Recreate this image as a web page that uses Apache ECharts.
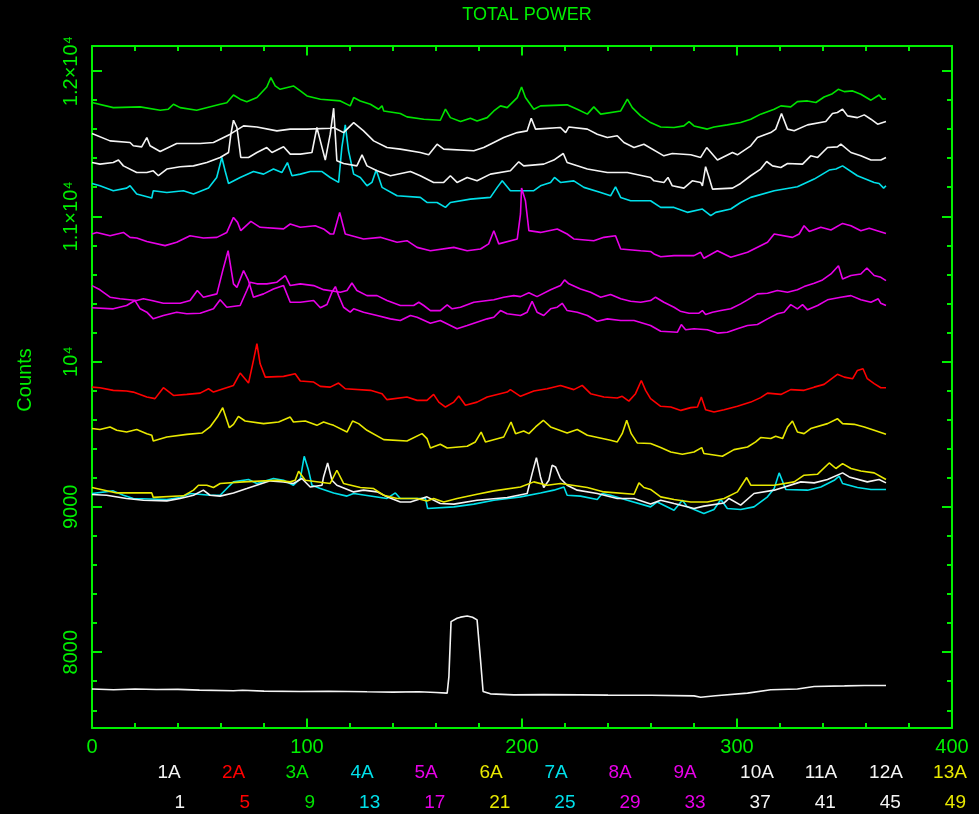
<!DOCTYPE html>
<html><head><meta charset="utf-8">
<script src="https://cdn.jsdelivr.net/npm/echarts@6/dist/echarts.min.js"></script>
<style>html,body{margin:0;padding:0;background:#000;}#c{width:979px;height:814px;}</style>
</head><body><div id="c"></div>
<script>
// ---- data (x = channel, y = counts) ----
const s1A = [[0,7746],[10,7741],[20,7746],[30,7743],[40,7744],[50,7739],[65.8,7734],[70,7738],[80,7732],[96.9,7729],[110,7731],[127.9,7727],[140,7725],[152,7728],[160,7722],[165.2,7718],[166,7832],[167,8210],[169.8,8233],[171.4,8241],[174.5,8249],[177,8240],[179.1,8222],[180.7,7947],[181.9,7729],[185.3,7713],[196.2,7706],[210,7708],[227.2,7706],[240,7704],[260,7703],[280,7699],[283.1,7690],[290,7700],[304.9,7718],[315.7,7741],[328.1,7746],[335.9,7764],[350,7768],[359.2,7771],[369.3,7771]];
const s2A = [[0,9824],[3.7,9820],[9.9,9802],[16.1,9797],[19.2,9790],[25.5,9756],[29.3,9745],[33.2,9820],[37.9,9767],[44.1,9774],[50.3,9783],[54.2,9813],[56.5,9790],[61.1,9813],[65.8,9836],[68.9,9921],[72.8,9852],[75.1,10008],[76.7,10123],[78.2,9985],[80.6,9893],[89.1,9898],[94.5,9916],[96.9,9866],[103.1,9859],[106.2,9829],[110.8,9824],[114.7,9852],[117.8,9813],[129.5,9802],[134.9,9779],[137.2,9738],[146.5,9756],[151.2,9733],[155.8,9733],[158.9,9774],[161.3,9721],[164.4,9687],[168.3,9721],[170.6,9763],[173.7,9699],[179.1,9721],[183.8,9756],[193.1,9790],[194.6,9807],[199.3,9761],[205.5,9797],[211.7,9813],[217.9,9836],[224.1,9807],[228,9836],[231.9,9779],[238.1,9756],[244.3,9749],[246.6,9761],[249.7,9728],[252.8,9779],[255.5,9870],[257.5,9802],[259.8,9745],[264.5,9692],[269.2,9687],[273.9,9664],[278.5,9683],[281.6,9687],[283.4,9756],[285.4,9669],[289.3,9653],[294,9669],[300.2,9692],[306.4,9721],[311,9752],[314.2,9783],[320.4,9774],[325,9807],[331.2,9802],[335.9,9824],[340.5,9843],[346.7,9912],[349.9,9893],[353.8,9882],[356,9939],[358.6,9951],[360.6,9882],[363.8,9848],[366.9,9820],[369.3,9820]];
const s3A = [[0,11783],[9.9,11748],[22.4,11753],[31.7,11730],[35.5,11737],[37.9,11771],[41,11748],[48.7,11730],[59.6,11771],[62.7,11782],[65.8,11835],[68.9,11806],[72,11789],[76.7,11817],[81.3,11890],[83.2,11954],[85.2,11897],[87.5,11874],[93.7,11897],[96.9,11863],[100,11828],[106.2,11806],[115.5,11794],[120.1,11760],[121.7,11817],[124.8,11794],[129.5,11771],[133.3,11737],[134.9,11760],[135.7,11725],[143.4,11707],[146.5,11684],[154.3,11668],[162,11661],[164.4,11737],[166.7,11679],[171.4,11652],[176,11675],[179.1,11656],[183.8,11679],[186.9,11725],[190,11760],[193.1,11748],[197.8,11817],[199.8,11890],[201.6,11817],[205.5,11737],[208.6,11760],[221,11767],[225.7,11737],[230.4,11703],[233.4,11753],[236.6,11703],[245.9,11725],[249,11806],[251.3,11748],[255.2,11691],[259.8,11645],[264.5,11615],[270.7,11611],[275.3,11622],[277.7,11652],[280,11622],[286.2,11600],[289.3,11615],[295.5,11629],[301.7,11645],[306.4,11668],[311,11703],[317.3,11737],[320.4,11760],[325,11753],[328.1,11789],[332.8,11794],[336.7,11783],[340.5,11821],[344.4,11844],[347.1,11874],[349.9,11858],[353.8,11863],[357.6,11840],[362.3,11799],[366.1,11835],[367.7,11806],[369.3,11808]];
const s4A = [[0,11226],[3.7,11210],[9.9,11176],[16.1,11194],[17.7,11210],[20.8,11153],[27.8,11126],[28.5,11176],[34.8,11164],[42.5,11176],[47.2,11153],[54.2,11194],[58,11267],[60.4,11405],[61.9,11313],[63.5,11226],[68.9,11267],[75.1,11308],[79.8,11290],[84.4,11325],[88.3,11301],[90.9,11370],[93,11279],[96.9,11290],[101.5,11308],[107,11308],[110.8,11267],[114.7,11233],[116.2,11473],[117.8,11629],[119.3,11451],[121.7,11290],[124.8,11267],[127.9,11210],[130.2,11233],[132.2,11318],[134.9,11199],[141.9,11141],[152.7,11130],[155.8,11095],[160.5,11095],[164.4,11061],[166.7,11095],[176,11118],[185.3,11130],[188.5,11199],[190.8,11244],[194.6,11176],[205.5,11176],[208.6,11210],[213.3,11233],[215.1,11267],[217.9,11233],[224.1,11244],[228.8,11199],[236.6,11164],[241.2,11141],[243.5,11203],[245.9,11130],[250.5,11107],[259.8,11107],[264.5,11061],[270.7,11061],[276.9,11027],[283.9,11050],[287.8,11004],[290.1,11027],[297.1,11050],[301.7,11095],[306.4,11130],[317.3,11176],[328.1,11203],[335.9,11256],[342.9,11318],[346,11325],[349.1,11347],[356,11279],[363.8,11233],[366.1,11226],[368.2,11194],[369.3,11210]];
const s5A = [[0,10523],[3.7,10494],[8.4,10443],[13,10432],[20.8,10420],[23.9,10432],[27.8,10420],[33.2,10401],[41,10401],[45.6,10420],[49,10489],[51.8,10443],[58.1,10466],[60.8,10626],[63.3,10763],[65.8,10535],[67.4,10511],[70.5,10626],[72.8,10557],[75.1,10443],[79.8,10466],[84.4,10500],[89.1,10523],[92.2,10408],[96.9,10408],[103.1,10420],[106.2,10370],[109.3,10393],[111.6,10477],[113.2,10516],[114.7,10454],[117,10374],[120.1,10340],[121.7,10363],[126.3,10340],[132.6,10317],[138.8,10294],[143.4,10283],[148.1,10317],[151.2,10305],[157.4,10264],[162,10283],[169.8,10226],[174.5,10248],[183.8,10294],[186.9,10305],[190,10351],[193.1,10329],[199.3,10317],[202.4,10340],[204.7,10415],[207,10340],[210.1,10317],[213.3,10363],[216.4,10374],[218.7,10401],[221,10351],[225.7,10340],[230.4,10317],[235,10278],[239.7,10294],[245.9,10283],[252.1,10283],[259.8,10248],[264.5,10209],[272.3,10202],[274.1,10255],[276.1,10219],[280,10226],[286.2,10219],[290.9,10196],[295.5,10202],[300.2,10226],[304.9,10248],[309.5,10255],[314.2,10294],[318.8,10329],[321.9,10340],[325,10392],[328.1,10363],[330.5,10392],[332.8,10356],[337.5,10386],[342.1,10425],[348.3,10443],[353,10454],[357.6,10425],[362.3,10408],[365.7,10432],[366.9,10401],[369.3,10386]];
const s6A = [[0,9539],[3.7,9532],[8.4,9550],[11.5,9527],[16.1,9515],[20.8,9532],[25.5,9504],[27.8,9493],[28.5,9453],[34.8,9481],[44.1,9499],[51.1,9508],[54.9,9550],[58.3,9618],[60.8,9683],[63.9,9545],[65.8,9568],[68.1,9623],[71.2,9591],[79.8,9573],[86.8,9584],[92.2,9618],[93.7,9584],[99.2,9591],[104.6,9561],[107.7,9584],[110.8,9568],[112.4,9561],[118.6,9515],[121.2,9591],[124,9573],[127.9,9527],[135.7,9463],[146.5,9453],[153.5,9504],[155.8,9470],[157.4,9405],[162,9431],[165.2,9405],[174.5,9417],[178.3,9447],[181,9515],[183,9447],[191.5,9481],[194.9,9584],[197,9504],[200.8,9522],[203.2,9504],[206.3,9550],[209.9,9596],[213.3,9550],[221,9508],[225.7,9532],[230.4,9493],[241.2,9458],[244.3,9447],[246.6,9504],[248.7,9596],[250.8,9504],[253.6,9440],[259.8,9436],[264.5,9408],[269.2,9378],[274.6,9362],[280,9378],[283.6,9408],[284.6,9367],[293.2,9348],[298.6,9394],[304.9,9412],[308.7,9447],[311,9477],[315.7,9470],[318,9486],[321.2,9470],[323.5,9550],[325.8,9591],[328.1,9515],[331.2,9504],[334.3,9539],[342.1,9573],[346.7,9607],[349.1,9573],[354.5,9568],[359.2,9550],[363.8,9527],[369.3,9499]];
const s7A = [[0,9092],[9.9,9110],[14.6,9080],[19.2,9058],[34.8,9051],[41,9065],[45.6,9092],[54.9,9080],[59.6,9080],[62.7,9126],[65.8,9172],[72.8,9188],[76.7,9161],[84.4,9195],[89.1,9183],[93.7,9149],[96.9,9195],[98.7,9348],[100.7,9252],[102.3,9149],[106.2,9126],[112.4,9096],[118.6,9074],[121.7,9092],[134.1,9065],[137.2,9058],[141.1,9096],[143.4,9058],[155.1,9058],[156.1,8989],[168.3,9000],[177.6,9019],[186.9,9046],[199.3,9069],[208.6,9096],[214.8,9115],[219.5,9137],[221,9080],[227.2,9074],[235,9051],[237.3,9092],[241.2,9080],[249,9046],[259.8,9000],[262.9,9034],[270.7,8977],[274.6,9046],[276.9,9000],[284.6,8955],[289.3,8982],[292.5,9051],[295.5,8989],[301.7,8982],[307.9,9000],[314.2,9069],[317.3,9126],[319.6,9234],[322.7,9120],[332.8,9115],[339,9137],[345.2,9183],[347.5,9211],[349.1,9161],[356,9133],[362.3,9120],[369.3,9120]];
const s8A = [[0,10370],[9.9,10363],[16.1,10386],[20,10420],[22.4,10363],[25.5,10340],[28.5,10294],[33.2,10317],[39.4,10340],[44.1,10329],[50.3,10333],[56.5,10363],[59.6,10425],[62.7,10374],[68.9,10386],[72,10489],[73.6,10546],[76.7,10535],[81.3,10535],[86,10546],[89.9,10592],[92.2,10523],[96.9,10535],[103.1,10523],[107.7,10495],[115.5,10477],[118.6,10489],[120.9,10541],[123.2,10489],[127.9,10454],[132.6,10454],[137.2,10420],[143.4,10386],[149.6,10386],[152,10408],[154.3,10386],[157.4,10351],[162,10351],[165.2,10390],[167.5,10363],[171.4,10374],[177.6,10408],[186.9,10425],[191.5,10443],[196.2,10454],[199.3,10447],[203.2,10473],[207,10447],[213.3,10494],[217.9,10523],[219.8,10562],[221.8,10535],[227.2,10500],[231.9,10477],[236.6,10443],[241.2,10461],[245.9,10432],[250.5,10415],[255.2,10408],[259.8,10420],[262.1,10443],[266,10408],[270.7,10374],[273.6,10347],[277.7,10333],[282.3,10333],[283.9,10351],[285.4,10324],[288.6,10340],[292.5,10351],[297.1,10363],[301.7,10397],[304.9,10425],[309.5,10466],[314.2,10470],[318.8,10489],[323.5,10477],[328.1,10494],[331.2,10516],[335.9,10539],[339.8,10562],[343.7,10603],[347.2,10660],[349.1,10569],[353,10592],[357.6,10603],[360.4,10644],[363.8,10592],[366.9,10580],[369.3,10557]];
const s9A = [[0,10878],[2.2,10889],[8.4,10866],[14.6,10889],[17.7,10855],[20.8,10851],[25.5,10827],[34,10798],[39.4,10821],[45.6,10866],[51.8,10851],[58.1,10855],[62.7,10889],[65.8,10992],[67.7,10958],[69.2,10901],[73.9,10965],[78.2,10924],[89.1,10913],[92.2,10947],[96.9,10924],[103.8,10935],[107.7,10913],[110.8,10878],[112.4,10878],[115.2,11027],[117.8,10878],[126.3,10844],[134.1,10855],[141.9,10821],[146.5,10832],[151.2,10786],[157.4,10763],[168.3,10786],[174.5,10763],[180.7,10775],[184.5,10810],[186.9,10901],[189.2,10810],[197.8,10844],[199.3,11016],[199.8,11195],[201.6,11107],[203.2,10901],[208.6,10889],[216.4,10913],[221,10878],[224.1,10844],[233.4,10832],[238.1,10855],[243.5,10866],[245.9,10775],[255.2,10763],[259.8,10758],[261.4,10741],[264.5,10722],[270.7,10729],[280,10729],[283.1,10752],[284.6,10711],[290.9,10763],[297.1,10718],[304.9,10752],[314.2,10821],[317.3,10878],[325.8,10855],[328.9,10878],[331.2,10935],[333.6,10896],[339,10924],[343.7,10906],[349.1,10951],[353,10935],[357.6,10901],[361.5,10917],[369.3,10882]];
const s10A = [[0,11569],[8.4,11519],[17.7,11508],[19.2,11485],[23.1,11478],[25.5,11542],[27,11485],[31.7,11446],[39.4,11501],[50.3,11501],[56.5,11508],[64.3,11565],[70.5,11622],[76.7,11615],[86,11588],[92.2,11600],[100,11600],[110.8,11606],[112.4,11611],[117,11576],[121.7,11645],[126.3,11588],[131,11519],[137.2,11473],[143.4,11462],[152.7,11439],[156.6,11423],[160.5,11496],[163.6,11462],[177.6,11451],[182.2,11473],[186.9,11508],[191.5,11542],[197.8,11576],[202.4,11588],[204.3,11675],[206.3,11600],[217.9,11611],[220.3,11576],[221.8,11615],[230.4,11600],[235,11565],[239.7,11542],[244.3,11554],[247.4,11508],[252.1,11473],[256.7,11496],[266,11416],[269.9,11432],[278.5,11423],[283.1,11405],[285.9,11473],[290.9,11387],[297.9,11439],[300.2,11423],[306.4,11485],[309.5,11542],[315.7,11576],[318,11600],[320.7,11707],[323.5,11600],[326.6,11588],[332.8,11629],[341.3,11652],[344.4,11707],[346.7,11714],[349.1,11737],[351.4,11691],[356,11679],[359.2,11698],[362.3,11668],[365.4,11634],[369.3,11652]];
const s11A = [[0,11370],[3.7,11359],[9.9,11370],[12.3,11387],[14.6,11347],[20.8,11301],[25.5,11301],[28.5,11313],[30.9,11279],[34.8,11325],[41,11341],[47.2,11347],[53.4,11370],[59.6,11405],[63.5,11439],[64.6,11565],[65.8,11661],[67.4,11611],[69.2,11405],[72.8,11405],[76.7,11439],[81.3,11473],[83.7,11439],[89.1,11478],[92.2,11428],[96.9,11428],[102.3,11439],[104.6,11611],[106.2,11519],[108.5,11387],[110.8,11565],[112.4,11744],[113.9,11382],[117,11363],[123.2,11347],[125.6,11423],[127.9,11347],[132.6,11313],[138.8,11279],[148.1,11308],[152.7,11279],[158.9,11233],[163.6,11233],[166.7,11279],[169.8,11233],[174.5,11267],[179.1,11244],[185.3,11290],[194.6,11313],[198.5,11375],[200.8,11347],[210.1,11359],[214.8,11387],[219.2,11432],[221,11370],[230.4,11325],[239.7,11301],[249,11301],[259.8,11267],[261.4,11244],[266,11233],[267.9,11267],[269.9,11210],[275.3,11194],[279.2,11244],[283.1,11233],[283.9,11210],[285.4,11341],[287,11267],[288.6,11187],[297.9,11194],[301.7,11226],[306.4,11279],[311,11325],[313.8,11377],[316.5,11347],[320.4,11336],[323.5,11363],[330.5,11359],[334.3,11416],[337.5,11405],[342.1,11473],[346.7,11478],[348.3,11496],[353,11439],[357.6,11416],[362.3,11387],[366.9,11387],[369.3,11405]];
const s12A = [[0,9085],[6.8,9080],[16.1,9058],[23.9,9046],[34.8,9041],[41,9058],[47.2,9080],[51.8,9115],[54.9,9080],[59.6,9074],[65.8,9096],[72,9126],[82.9,9179],[89.1,9172],[93.7,9161],[97.6,9195],[101.5,9137],[107,9149],[107.7,9206],[109.6,9302],[111.6,9183],[113.9,9149],[121.7,9103],[126.3,9115],[132.6,9103],[137.2,9069],[143.4,9034],[148.1,9034],[155.8,9069],[162,9023],[168.3,9019],[179.1,9046],[193.1,9065],[202.4,9092],[204.7,9229],[206.7,9339],[208.6,9206],[210.1,9133],[212.5,9183],[214,9286],[215.6,9275],[217.9,9195],[221,9149],[225.7,9115],[235,9092],[244.3,9058],[252.1,9058],[259.8,9020],[264.5,9046],[270.7,9023],[280,8989],[284.6,9005],[294,9027],[296.3,9058],[301.7,9012],[307.9,9092],[317.3,9115],[329.7,9172],[335.9,9165],[342.1,9188],[349.1,9234],[352.2,9206],[360.6,9172],[366.1,9188],[369.3,9165]];
const s13A = [[0,9133],[11.5,9096],[27.8,9096],[28.5,9065],[42.5,9076],[47.2,9115],[49.5,9149],[53.4,9149],[56.5,9133],[59.6,9161],[70.5,9172],[86,9183],[92.2,9172],[94.5,9183],[96.1,9245],[99.2,9183],[110.8,9161],[113.9,9252],[117,9161],[124.8,9133],[131,9126],[135.7,9080],[141.9,9058],[151.2,9058],[155.8,9041],[158.9,9058],[163.6,9034],[169.8,9058],[179.1,9087],[186.9,9110],[199.3,9137],[205.5,9172],[211.7,9149],[217.9,9161],[230.4,9133],[238.1,9103],[252.1,9087],[254.4,9165],[256.7,9133],[259.8,9120],[264.5,9069],[270.7,9051],[278.5,9034],[286.2,9034],[294,9058],[300.2,9103],[304.5,9202],[306.4,9149],[317.3,9149],[326.6,9172],[331.2,9218],[337.5,9225],[342.9,9302],[346,9264],[349.1,9298],[353,9264],[357.6,9247],[363.8,9234],[369.3,9188]];

const seriesNames   = ['1A','2A','3A','4A','5A','6A','7A','8A','9A','10A','11A','12A','13A'];
const seriesNumbers = ['1','5','9','13','17','21','25','29','33','37','41','45','49'];
const seriesData    = [s1A,s2A,s3A,s4A,s5A,s6A,s7A,s8A,s9A,s10A,s11A,s12A,s13A];
const yTickValues = [8000, 9000, 10000, 11000, 12000];
const yTickLabels = ['8000', '9000', '10\u2074', '1.1\u00d710\u2074', '1.2\u00d710\u2074'];
const titleText = 'TOTAL POWER';
const yName = 'Counts';

// ---- style / layout ----
const W='#f4f4f4', R='#ff0000', G='#00e400', C='#00e0ea', M='#e800e8', Y='#e8e800';
const seriesColors = [W,R,G,C,M,Y,C,M,M,W,W,W,Y];
const AXC = '#00f000';
const FONT = 'Liberation Sans, Arial, sans-serif';
const legendRow1X = [169,233.5,297,362,426,491,556,620,685,757,821,886,950];
const legendRow2Right = seriesNumbers.map((_, i) => 185 + 65.08 * i);
const Y_MIN = 7478, Y_MAX = 12172;

const chart = echarts.init(document.getElementById('c'), null, {renderer:'canvas'});
const axLine = {show:true, lineStyle:{color:AXC, width:2}};
function yAx(pos, split, len, labels) {
  return {
    type:'value', position:pos, min:Y_MIN, max:Y_MAX, splitNumber:split,
    axisLine: split === 5 ? axLine : {show:false},
    axisTick:{show:true, inside:true, length:len, lineStyle:{color:AXC, width:2}},
    axisLabel: labels ? {
      show:true, rotate:90, color:AXC, fontSize:20, fontFamily:FONT, margin:11,
      showMinLabel:false, showMaxLabel:false,
      formatter: v => { const i = yTickValues.indexOf(v); return i >= 0 ? yTickLabels[i] : ''; }
    } : {show:false},
    splitLine:{show:false}
  };
}
const yAxes = [yAx('left',5,10,true), yAx('left',23,5,false), yAx('right',5,10,false), yAx('right',23,5,false)];
yAxes[0].name = yName;
yAxes[0].nameLocation = 'middle';
yAxes[0].nameRotate = 90;
yAxes[0].nameGap = 57;
yAxes[0].nameTextStyle = {color:AXC, fontSize:20, fontFamily:FONT, padding:[0,0,0,14]};

function xAx(pos, labels) {
  return {
    type:'value', position:pos, min:0, max:400, interval:100,
    axisLine: axLine,
    axisTick:{show:true, inside:true, length:9.5, lineStyle:{color:AXC, width:2}},
    minorTick:{show:true, splitNumber:5, length:5, lineStyle:{color:AXC, width:2}},
    axisLabel: labels ? {show:true, color:AXC, fontSize:20, fontFamily:FONT, margin:9} : {show:false},
    splitLine:{show:false}, minorSplitLine:{show:false}
  };
}

const graphics = [];
seriesNames.forEach((n, i) => {
  graphics.push({type:'text', x:legendRow1X[i], y:773, silent:true,
    style:{text:n, fill:seriesColors[i], font:'19px ' + FONT, textAlign:'center', align:'center', textVerticalAlign:'middle', verticalAlign:'middle'}});
  graphics.push({type:'text', x:legendRow2Right[i], y:803, silent:true,
    style:{text:seriesNumbers[i], fill:seriesColors[i], font:'19px ' + FONT, textAlign:'right', align:'right', textVerticalAlign:'middle', verticalAlign:'middle'}});
});

chart.setOption({
  backgroundColor:'#000000',
  animation:false,
  title:{text:titleText, left:527, top:6, textAlign:'center', padding:0,
    textStyle:{color:AXC, fontSize:18, fontWeight:'normal', fontFamily:FONT}},
  grid:{left:92, right:27, top:46, bottom:86, containLabel:false},
  xAxis:[xAx('bottom', true), xAx('top', false)],
  yAxis:yAxes,
  series: seriesData.map((d, i) => ({
    name:seriesNames[i], type:'line', data:d, xAxisIndex:0, yAxisIndex:0,
    showSymbol:false, symbol:'none', smooth:false, silent:true,
    lineStyle:{color:seriesColors[i], width:1.6}
  })),
  graphic:graphics
});
</script>
</body></html>
